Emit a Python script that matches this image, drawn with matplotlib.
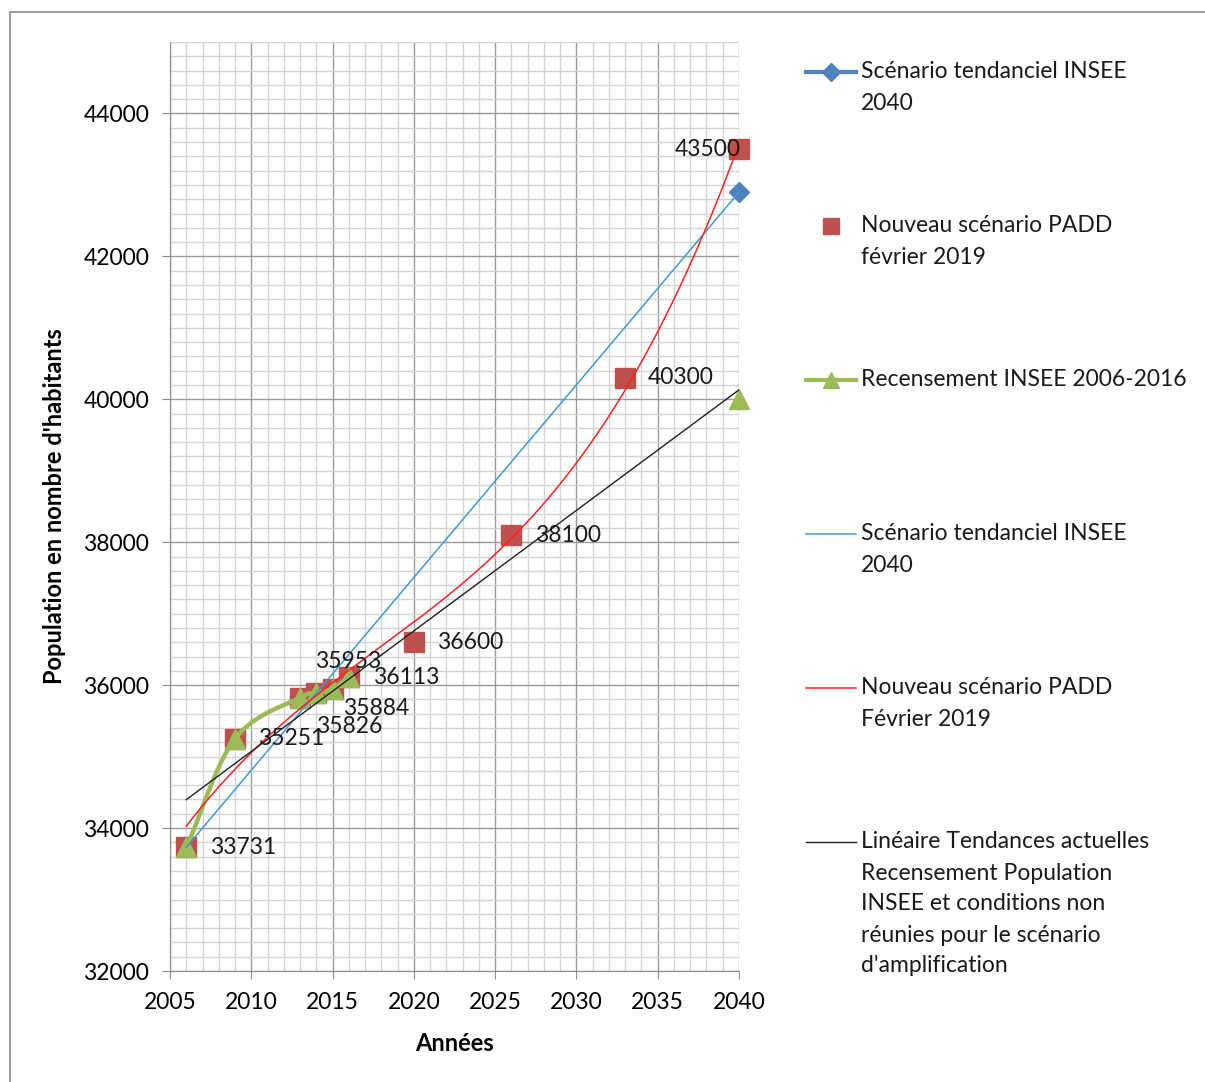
import numpy as np
import matplotlib
matplotlib.use('Agg')
import matplotlib.pyplot as plt
from matplotlib.lines import Line2D
from matplotlib.patches import Rectangle
from matplotlib.ticker import MultipleLocator

plt.rcParams['font.family'] = ['Lato', 'DejaVu Sans']

# données
insee_years = [2006, 2040]
insee_pop = [33731, 42900]

padd_years = [2006, 2009, 2013, 2014, 2015, 2016, 2020, 2026, 2033, 2040]
padd_pop = [33731, 35251, 35826, 35884, 35953, 36113, 36600, 38100, 40300, 43500]

recens_years = [2006, 2009, 2013, 2014, 2015, 2016]
recens_pop = [33731, 35251, 35826, 35884, 35953, 36113]
recens_2040 = [2040]
recens_2040_pop = [40000]

BLUE = '#4F81BD'
RED = '#C0504D'
GREEN = '#9BBB59'
FS = 16.5

def catmull(xs, ys, n=20):
    xs = np.asarray(xs, float); ys = np.asarray(ys, float)
    px = np.concatenate([[2*xs[0]-xs[1]], xs, [2*xs[-1]-xs[-2]]])
    py = np.concatenate([[2*ys[0]-ys[1]], ys, [2*ys[-1]-ys[-2]]])
    ox, oy = [], []
    t = np.linspace(0, 1, n)
    for i in range(1, len(px)-2):
        for arr, out in ((px, ox), (py, oy)):
            p0, p1, p2, p3 = arr[i-1], arr[i], arr[i+1], arr[i+2]
            out.extend(0.5*((2*p1) + (-p0+p2)*t + (2*p0-5*p1+4*p2-p3)*t**2 + (-p0+3*p1-3*p2+p3)*t**3))
    return np.array(ox), np.array(oy)

fig = plt.figure(figsize=(12.05, 10.82), dpi=100)
fig.add_artist(Rectangle((10/1205, -0.01), 1.2, 1-12/1082+0.01, transform=fig.transFigure,
                         fill=False, edgecolor='#8c8c8c', lw=1.2))
ax = fig.add_axes([170/1205, 1-971/1082, (739-170)/1205, (971-42)/1082])

ax.set_xlim(2005, 2040)
ax.set_ylim(32000, 45000)
ax.xaxis.set_major_locator(MultipleLocator(5))
ax.xaxis.set_minor_locator(MultipleLocator(1))
ax.yaxis.set_major_locator(MultipleLocator(2000))
ax.yaxis.set_minor_locator(MultipleLocator(200))
ax.grid(which='minor', color='#d4d4d4', lw=1.0)
ax.grid(which='major', color='#9a9a9a', lw=1.0)
ax.set_axisbelow(True)
for s in ['top', 'right']:
    ax.spines[s].set_visible(False)
for s in ['left', 'bottom']:
    ax.spines[s].set_color('#8c8c8c')
ax.tick_params(which='major', length=6, color='#8c8c8c', labelsize=FS, pad=9)
ax.tick_params(which='minor', length=0)
ax.set_yticks([32000, 34000, 36000, 38000, 40000, 42000, 44000])

# séries
ax.plot(insee_years, insee_pop, 'D', color=BLUE, ms=10, zorder=2, clip_on=False)
ax.plot(padd_years, padd_pop, 's', color=RED, ms=14.5, zorder=3, clip_on=False)
gx, gy = catmull(recens_years, recens_pop)
ax.plot(gx, gy, '-', color=GREEN, lw=3.2, zorder=4)
ax.plot(recens_years + recens_2040, recens_pop + recens_2040_pop, '^', color=GREEN, ms=15,
        ls='none', zorder=4, clip_on=False)

# courbes de tendance
xx = np.linspace(2006, 2040, 200)
cb = np.polyfit(insee_years, insee_pop, 1)
ax.plot(xx, np.polyval(cb, xx), color='#3C9AD8', lw=1.1, zorder=5)
cr = np.polyfit(np.array(padd_years) - 2006, padd_pop, 3)
ax.plot(xx, np.polyval(cr, xx - 2006), color='#FF2020', lw=1.1, zorder=5)
ck = np.polyfit(recens_years + recens_2040, recens_pop + recens_2040_pop, 1)
ax.plot(xx, np.polyval(ck, xx), color='#202020', lw=1.0, zorder=5)

# étiquettes
offs = {2006: (24, 0, 'left'), 2009: (23, 0, 'left'), 2013: (16, -29, 'left'),
        2014: (27, -15, 'left'), 2015: (-18, 27, 'left'), 2016: (24, 0, 'left'),
        2020: (23, 0, 'left'), 2026: (24, 0, 'left'), 2033: (23, 0, 'left'),
        2040: (2, 0, 'right')}
for yr, v in zip(padd_years, padd_pop):
    dx, dy, ha = offs[yr]
    ax.annotate(str(v), (yr, v), xytext=(dx, dy), textcoords='offset pixels',
                ha=ha, va='center', fontsize=FS, color='#1a1a1a', zorder=6)

ax.set_xlabel('Années', fontsize=17, fontweight='bold', labelpad=14)
ax.set_ylabel("Population en nombre d'habitants", fontsize=17, fontweight='bold', labelpad=12)

# légende
W, H = 1205, 1082
entries = [
    (72, dict(color=BLUE, lw=3), ['Scénario tendanciel INSEE', '2040'], 'D', 9),
    (226, None, ['Nouveau scénario PADD', 'février 2019'], 's', 11),
    (380, dict(color=GREEN, lw=3), ['Recensement INSEE 2006-2016'], '^', 11),
    (534, dict(color='#3C9AD8', lw=1.1), ['Scénario tendanciel INSEE', '2040'], None, 0),
    (688, dict(color='#FF2020', lw=1.1), ['Nouveau scénario PADD', 'Février 2019'], None, 0),
    (842, dict(color='#202020', lw=1.0), ['Linéaire Tendances actuelles', 'Recensement Population',
                                          'INSEE et conditions non', 'réunies pour le scénario',
                                          "d'amplification"], None, 0),
]
mcol = {'D': BLUE, 's': RED, '^': GREEN}
for y0, style, lines, mk, ms in entries:
    yf = 1 - y0 / H
    if style:
        fig.add_artist(Line2D([806/W, 856/W], [yf, yf], transform=fig.transFigure, **style))
    if mk:
        fig.add_artist(Line2D([831/W], [yf], transform=fig.transFigure, color=mcol[mk],
                              marker=mk, ms=ms, lw=0))
    for i, t in enumerate(lines):
        fig.text(861/W, 1 - (y0 + 31*i)/H, t, fontsize=FS, va='center', ha='left', color='#1a1a1a')

fig.savefig('out.png', dpi=100)
